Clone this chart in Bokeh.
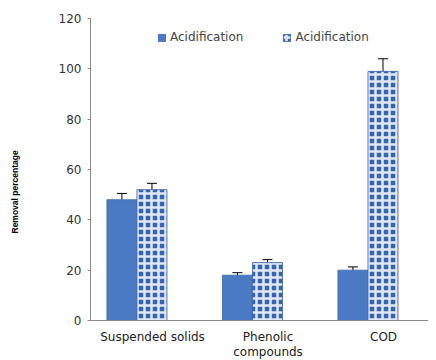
from bokeh.plotting import figure
from bokeh.models import (ColumnDataSource, Whisker, TeeHead, Legend, LegendItem,
                          Range1d, LinearAxis, FixedTicker)
from bokeh.embed import file_html
from bokeh.resources import INLINE

categories = ["Suspended solids", "Phenolic compounds", "COD"]
label_line1 = ["Suspended solids", "Phenolic", "COD"]
label_line2 = ["", "compounds", ""]
y_label = "Removal percentage"
series1_name = "Acidification"
series2_name = "Acidification"
series1 = [48, 18, 20]
err1 = [2.5, 1.0, 1.3]
series2 = [52, 23, 99]
err2 = [2.5, 1.2, 5.0]
y_ticks = [0, 20, 40, 60, 80, 100, 120]

idx = list(range(len(categories)))
off1 = -0.265
off2 = -0.005
w = 0.26
src = ColumnDataSource(dict(
    x1=[i + off1 for i in idx], x2=[i + off2 for i in idx],
    v1=series1, lo1=[v - e for v, e in zip(series1, err1)], hi1=[v + e for v, e in zip(series1, err1)],
    v2=series2, lo2=[v - e for v, e in zip(series2, err2)], hi2=[v + e for v, e in zip(series2, err2)],
))

p = figure(frame_width=338, frame_height=302, x_range=Range1d(-0.537, 2.389),
           y_range=Range1d(0, 120),
           output_backend="svg", toolbar_location=None,
           min_border_left=90, min_border_right=0, min_border_top=18, min_border_bottom=0)
p.outline_line_color = None
p.xgrid.grid_line_color = None
p.ygrid.grid_line_color = None

r1 = p.vbar(x="x1", top="v1", width=w, source=src,
            fill_color="#4a7ac4", line_color="#3d64a8", line_width=0.8)
r2 = p.vbar(x="x2", top="v2", width=w, source=src,
            fill_color="#3763b3", line_color="#3d64a8", line_width=0.8,
            hatch_pattern="+", hatch_color="white", hatch_weight=2.5, hatch_scale=7, hatch_alpha=0.85)

for xs, lo, hi in [("x1", "lo1", "hi1"), ("x2", "lo2", "hi2")]:
    wk = Whisker(base=xs, lower=lo, upper=hi, source=src,
                 line_color="black", line_width=1,
                 upper_head=TeeHead(size=10, line_color="black", line_width=1),
                 lower_head=TeeHead(size=10, line_color="black", line_width=1))
    p.add_layout(wk)

p.yaxis.ticker = y_ticks
p.yaxis.major_label_text_font = "DejaVu Sans"
p.yaxis.major_label_text_font_size = "12px"
p.yaxis.major_label_text_color = "#333333"
p.yaxis.minor_tick_line_color = None
p.yaxis.major_tick_out = 3
p.yaxis.major_tick_in = 0
p.yaxis.axis_line_color = "#888888"
p.yaxis.major_tick_line_color = "#888888"
p.yaxis.major_label_standoff = 6
# trailing no-break spaces push the centred label down, as in the reference
p.yaxis.axis_label = y_label + "\u00a0" * 19
p.yaxis.axis_label_text_font = "Liberation Sans"
p.yaxis.axis_label_text_font_style = "bold"
p.yaxis.axis_label_text_font_size = "8.5px"
p.yaxis.axis_label_text_color = "black"
p.yaxis.axis_label_standoff = 36

p.xaxis.ticker = FixedTicker(ticks=idx)
p.xaxis.major_label_overrides = {i: t for i, t in zip(idx, label_line1)}
p.xaxis.major_label_text_font = "DejaVu Sans"
p.xaxis.major_label_text_font_size = "12px"
p.xaxis.major_label_text_color = "#222222"
p.xaxis.major_tick_line_color = None
p.xaxis.minor_tick_line_color = None
p.xaxis.axis_line_color = "#888888"
p.xaxis.major_label_standoff = 3

ax2 = LinearAxis(ticker=FixedTicker(ticks=[i for i in idx if label_line2[i]]),
                 major_label_overrides={i: t for i, t in zip(idx, label_line2) if t},
                 axis_line_color=None, major_tick_line_color=None, minor_tick_line_color=None,
                 major_tick_out=0, major_tick_in=0, minor_tick_out=0, minor_tick_in=0,
                 major_label_text_font="DejaVu Sans", major_label_text_font_size="12px",
                 major_label_text_color="#222222", major_label_standoff=-2)
p.add_layout(ax2, "below")

legend = Legend(items=[LegendItem(label=series1_name, renderers=[r1]),
                       LegendItem(label=series2_name, renderers=[r2])],
                orientation="horizontal", location=(67, 276),
                border_line_color=None, background_fill_alpha=0,
                label_text_font="DejaVu Sans", label_text_font_size="12px",
                glyph_width=9, glyph_height=9, spacing=39, label_standoff=4,
                padding=2, margin=0)
p.add_layout(legend)

open("out.html", "w").write(file_html(p, INLINE))
